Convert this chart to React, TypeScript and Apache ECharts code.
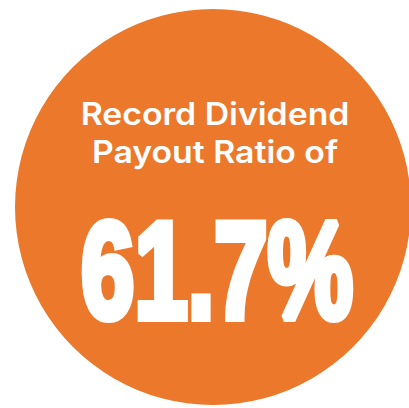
import React, { useEffect, useRef } from "react";
import * as echarts from "echarts";

const headlineLines = ["Record Dividend", "Payout Ratio of"];
const payoutRatio = [61.7];
const ratioLabel = payoutRatio.map((v) => v.toFixed(1) + "%");

export default function App() {
  const ref = useRef<HTMLDivElement>(null);
  useEffect(() => {
    if (!ref.current) return;
    const chart = echarts.init(ref.current, null, { renderer: "svg" });
    chart.setOption({
      animation: false,
      backgroundColor: "#ffffff",
      graphic: [
        {
          type: "circle",
          shape: { cx: 213, cy: 207, r: 198 },
          style: { fill: "#EC792B" },
        },
        {
          type: "text",
          x: 215,
          y: 133,
          scaleX: 1.09,
          scaleY: 1,
          style: {
            text: headlineLines.join("\n"),
            fill: "#ffffff",
            font: "600 31px Inter",
            lineHeight: 38,
            textAlign: "center",
            textVerticalAlign: "middle",
          },
        },
        {
          type: "text",
          x: 217,
          y: 270,
          scaleX: 0.7,
          scaleY: 1,
          style: {
            text: ratioLabel[0],
            fill: "#ffffff",
            stroke: "#ffffff",
            lineWidth: 8,
            font: "bold 137px 'Liberation Sans'",
            textAlign: "center",
            textVerticalAlign: "middle",
          },
        },
      ],
    });
    return () => chart.dispose();
  }, []);
  return (
    <div
      ref={ref}
      style={{ position: "fixed", left: 0, top: 0, width: 409, height: 408 }}
    />
  );
}
